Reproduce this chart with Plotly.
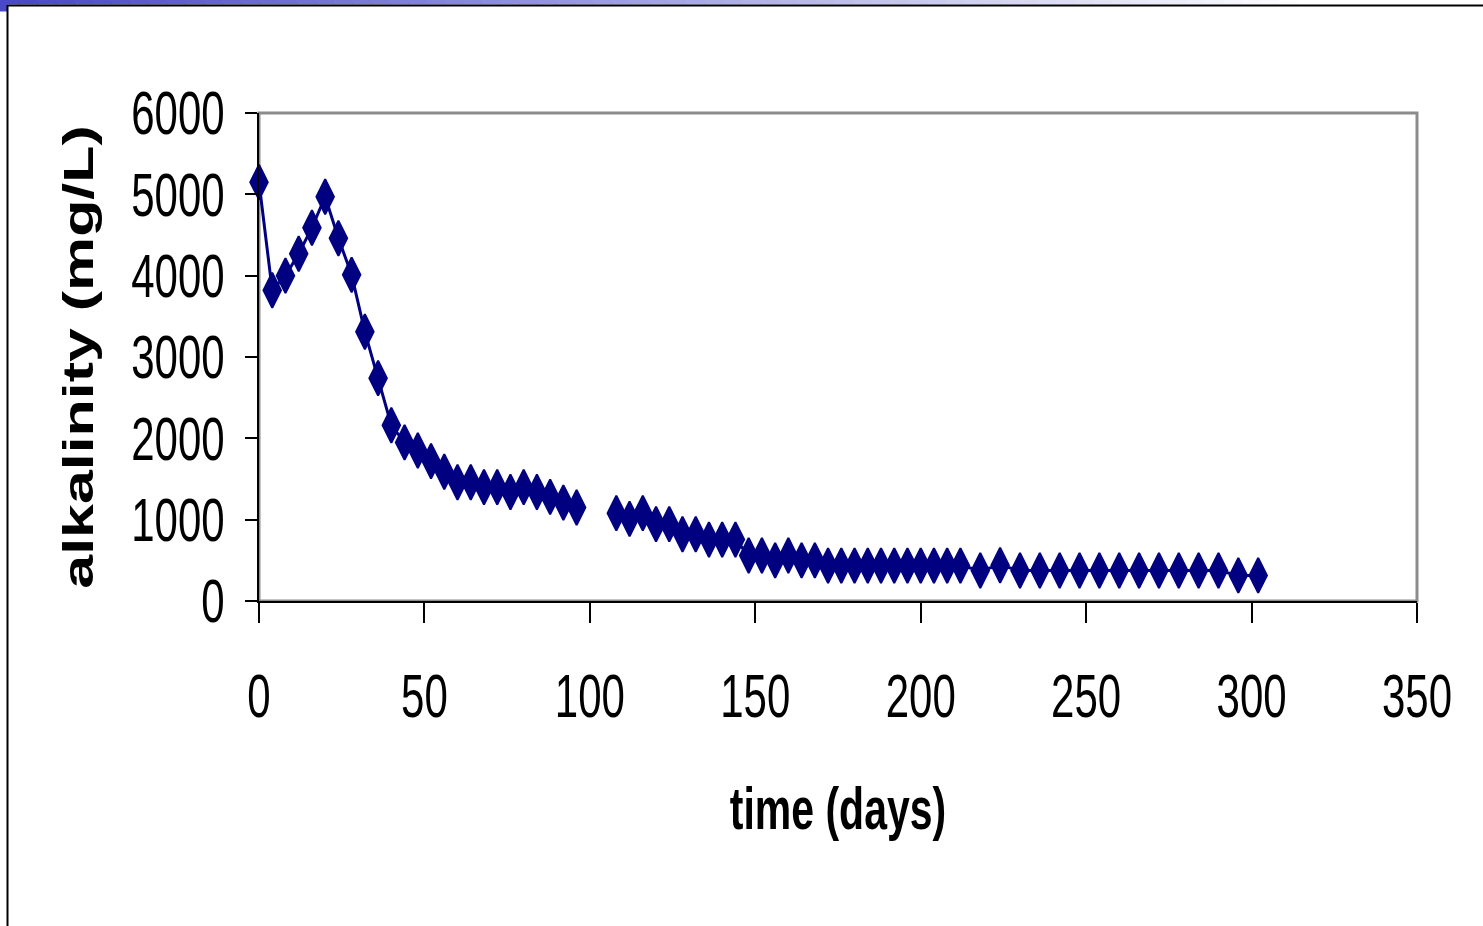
import plotly.graph_objects as go

# ---- data ----
days = [0, 4, 8, 12, 16, 20, 24, 28, 32, 36, 40, 44, 48, 52, 56, 60, 64, 68, 72, 76,
        80, 84, 88, 92, 96, 100, 104,
        108, 112, 116, 120, 124, 128, 132, 136, 140, 144, 148, 152, 156, 160, 164,
        168, 172, 176, 180, 184, 188, 192, 196, 200, 204, 208, 212, 218, 224, 230,
        236, 242, 248, 254, 260, 266, 272, 278, 284, 290, 296, 302]
alkalinity = [5150, 3820, 4000, 4270, 4590, 4970, 4460, 4010, 3310, 2740, 2160, 1950,
              1850, 1720, 1590, 1460, 1460, 1400, 1400, 1340, 1400, 1340, 1280, 1210,
              1150, None, None,
              1080, 1010, 1080, 945, 945, 820, 820, 755, 755, 755, 560, 560, 500, 560,
              500, 500, 435, 435, 435, 435, 435, 435, 435, 435, 435, 435, 435, 375,
              440, 375, 375, 375, 375, 375, 375, 375, 375, 375, 375, 375, 315, 315]

x_ticks = [0, 50, 100, 150, 200, 250, 300, 350]
y_ticks = [0, 1000, 2000, 3000, 4000, 5000, 6000]
x_title = "time (days)"
y_title = "alkalinity (mg/L)"

W, H = 1483, 926
L, R, T, B = 259, 66, 113, 325
PW, PH = W - L - R, H - T - B

def px(xp):
    return (xp - L) / PW

def py(yp):
    return (H - B - yp) / PH

NAVY = "#000080"

fig = go.Figure()
fig.add_trace(go.Scatter(
    x=days, y=alkalinity, mode="lines+markers",
    line=dict(color=NAVY, width=3),
    marker=dict(symbol="diamond-tall", size=25, color=NAVY,
                line=dict(color=NAVY, width=2)),
    connectgaps=False, cliponaxis=False, showlegend=False,
))

shapes = []
# top gradient strip
n = 80
for i in range(n):
    t = i / n
    f = min(1.0, t * 1.15)
    r = int(72 + (255 - 72) * f)
    g = int(72 + (255 - 72) * f)
    b = int(200 + (255 - 200) * f)
    shapes.append(dict(type="rect", xref="paper", yref="paper",
                       x0=px(W * i / n), x1=px(W * (i + 1) / n + 1),
                       y0=py(4.5), y1=py(0), line=dict(width=0),
                       fillcolor=f"rgb({r},{g},{b})", layer="below"))
# small square top-left
shapes.append(dict(type="rect", xref="paper", yref="paper",
                   x0=px(0), x1=px(7), y0=py(11.5), y1=py(0),
                   line=dict(width=0), fillcolor="rgb(72,72,200)", layer="below"))
# slide frame lines
shapes.append(dict(type="line", xref="paper", yref="paper",
                   x0=px(7), x1=px(W), y0=py(5.5), y1=py(5.5),
                   line=dict(color="black", width=2), layer="below"))
shapes.append(dict(type="line", xref="paper", yref="paper",
                   x0=px(7.5), x1=px(7.5), y0=py(5), y1=py(H),
                   line=dict(color="black", width=2), layer="below"))
# plot area border
shapes.append(dict(type="rect", xref="paper", yref="paper",
                   x0=0, x1=1, y0=0, y1=1,
                   line=dict(color="#8c8c8c", width=3), layer="below"))
fig.update_layout(shapes=shapes)

FONT = "Liberation Sans, Arial, sans-serif"
tick_font = dict(family=FONT, size=42, color="black")
title_font = dict(family=FONT, size=41, color="black", weight="bold")

fig.update_xaxes(
    range=[0, 350], tickvals=x_ticks, ticktext=[str(v) for v in x_ticks],
    showgrid=False, zeroline=False, showline=True, linecolor="black", linewidth=2,
    ticks="outside", ticklen=20, tickwidth=1.5, tickcolor="black",
    tickfont=tick_font, ticklabelstandoff=37,
    title=dict(text=x_title, font=title_font, standoff=76),
    automargin=False, fixedrange=True,
)
fig.update_yaxes(
    range=[0, 6000], tickvals=y_ticks, ticktext=[str(v) for v in y_ticks],
    showgrid=False, zeroline=False, showline=True, linecolor="black", linewidth=2,
    ticks="outside", ticklen=12, tickwidth=1.5, tickcolor="black",
    tickfont=tick_font, ticklabelstandoff=12,
    title=dict(text=y_title, font=dict(title_font, size=42), standoff=24),
    automargin=False, fixedrange=True,
)
fig.update_layout(
    width=W, height=H,
    margin=dict(l=L, r=R, t=T, b=B, pad=0),
    paper_bgcolor="white", plot_bgcolor="white",
)

# The reference's text is stretched vertically (about 1.45x); reproduce that
# by scaling the rendered text elements about their own centres.
post = """
(function(){
  var K = 1.45;
  function stretch(){
    var gd = document.getElementById('{plot_id}');
    if(!gd) return;
    var els = gd.querySelectorAll('.xtick text, .ytick text, .g-xtitle text, .g-ytitle text');
    els.forEach(function(el){
      if(el.getAttribute('data-orig') === null){
        el.setAttribute('data-orig', el.getAttribute('transform') || '');
      }
      var orig = el.getAttribute('data-orig');
      el.setAttribute('transform', orig);
      var bb = el.getBBox();
      var rot = el.closest('.g-ytitle') !== null;
      var t;
      if(rot){
        var cx = bb.x + bb.width/2;
        t = ' translate(' + cx + ',0) scale(' + K + ',1) translate(' + (-cx) + ',0)';
      } else {
        var cy = bb.y + bb.height/2;
        t = ' translate(0,' + cy + ') scale(1,' + K + ') translate(0,' + (-cy) + ')';
      }
      el.setAttribute('transform', orig + t);
    });
  }
  stretch();
  setTimeout(stretch, 0);
  var gd = document.getElementById('{plot_id}');
  if(gd && gd.on){ gd.on('plotly_afterplot', stretch); }
})();
"""

fig.write_html("out.html", config={"displayModeBar": False}, post_script=post)
